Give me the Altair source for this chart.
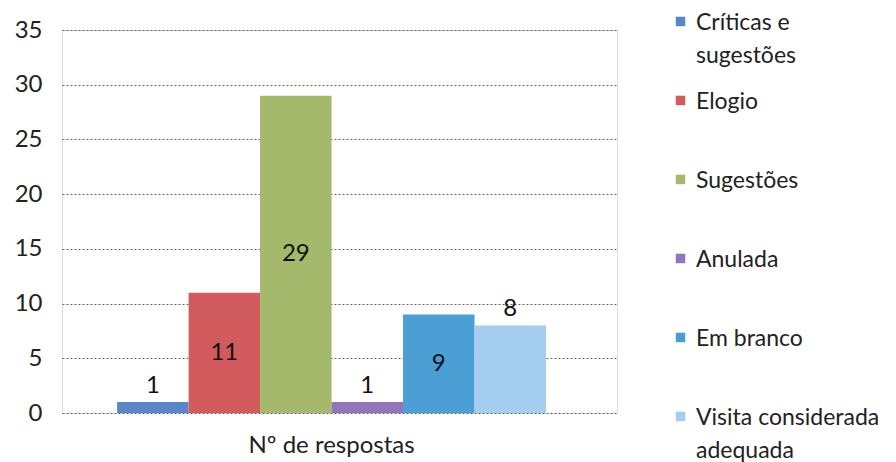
import altair as alt
import pandas as pd

categories = ["Críticas e sugestões", "Elogio", "Sugestões", "Anulada", "Em branco", "Visita considerada adequada"]
values = [1, 11, 29, 1, 9, 8]
colors = ["#5a86c8", "#d25b5e", "#a4b96b", "#9274b9", "#4b9fd5", "#a5cdf0"]
inside_labels = ["Elogio", "Sugestões", "Em branco"]
group = "Nº de respostas"
y_ticks = [0, 5, 10, 15, 20, 25, 30, 35]

df = pd.DataFrame({"serie": categories, "valor": values, "grupo": group})
df["dentro"] = df["serie"].isin(inside_labels)

FONT = "Lato"
FS = 24

x = alt.X("grupo:N", title=None,
          scale=alt.Scale(paddingInner=0, paddingOuter=0.147, align=0.437),
          axis=alt.Axis(labelAngle=0, labelFontSize=FS, labelPadding=20, ticks=False,
                        domain=False, labelColor="#222", labelFont=FONT))
xoff = alt.XOffset("serie:N", sort=categories)
y = alt.Y("valor:Q", title=None,
          scale=alt.Scale(domain=[0, 35]),
          axis=alt.Axis(values=y_ticks, labelFontSize=FS, labelPadding=20, ticks=False,
                        domain=False, gridDash=[2, 2], gridColor="#666", gridWidth=1,
                        labelColor="#222", labelFont=FONT))
color = alt.Color("serie:N", sort=categories,
                  scale=alt.Scale(domain=categories, range=colors),
                  legend=alt.Legend(title=None, orient="none", legendX=607, legendY=-30,
                                    symbolType="M-1,1.1h2v2h-2z", symbolSize=90, symbolStrokeWidth=0,
                                    labelFontSize=23, labelFont=FONT, labelColor="#222",
                                    labelExpr="datum.label == 'Críticas e sugestões' ? ['Críticas e', 'sugestões'] : datum.label == 'Visita considerada adequada' ? ['Visita considerada', 'adequada'] : datum.label",
                                    labelLimit=300, gridAlign="all", rowPadding=11,
                                    labelBaseline="top", labelOffset=4))

base = alt.Chart(df)
bars = base.mark_bar().encode(x=x, xOffset=xoff, y=y, color=color)

txt_in = base.transform_filter("datum.dentro").transform_calculate(
    meio="datum.valor / 2").mark_text(fontSize=FS, font=FONT, color="#111").encode(
    x=x, xOffset=xoff, y=alt.Y("meio:Q"), text="valor:Q")
txt_out = base.transform_filter("!datum.dentro").mark_text(
    fontSize=FS, font=FONT, color="#111", dy=-16).encode(
    x=x, xOffset=xoff, y=alt.Y("valor:Q"), text="valor:Q")

chart = alt.layer(bars, txt_in, txt_out).properties(
    width=555, height=383,
    autosize=alt.AutoSizeParams(type="none"),
    padding={"left": 62, "top": 30, "right": 279, "bottom": 49},
).configure_view(stroke="#444", strokeWidth=1).configure(
    font=FONT, style={"guide-label": {"lineHeight": 33}})

chart.save("out.html", embed_options={"renderer": "svg", "actions": False})
